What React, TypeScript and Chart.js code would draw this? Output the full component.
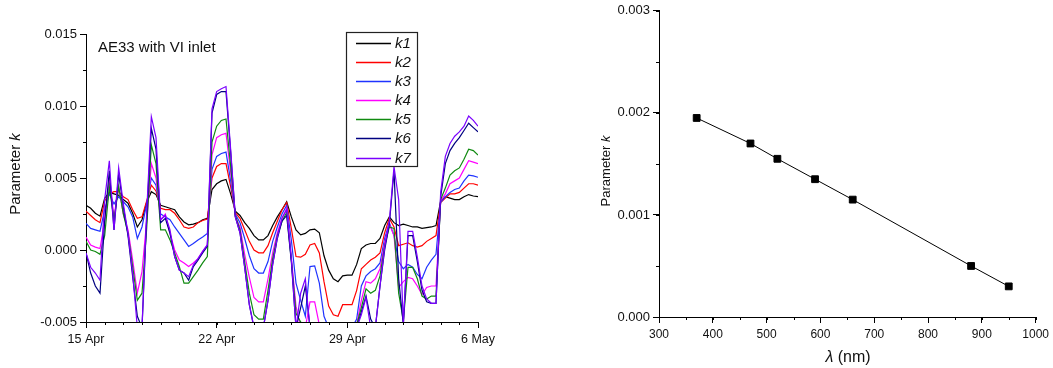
import React, { useEffect, useRef } from "react";
import { Chart, registerables } from "chart.js";

Chart.register(...registerables);

const FONT = '"Liberation Sans", Arial, Helvetica, sans-serif';
const INK = "#111";

// AE33 series are sampled every 6 h, counted in days from 15 Apr 00:00
const SAMPLE_STEP_DAYS = 0.25;
const dateTickLabels = ["15 Apr", "22 Apr", "29 Apr", "6 May"];

// Parameter k per wavelength channel, in units of 1e-3 (4 samples per day)
const k1 = [
  3.1, 2.9, 2.55, 2.35, 3.6, 4.0, 3.9, 3.8, 3.5, 3.25, 2.55, 1.6,
  2.1, 3.3, 4.05, 3.85, 3.1, 3.0, 2.9, 2.8, 2.3, 1.95, 1.75, 1.8,
  1.9, 2.1, 2.2, 4.2, 4.6, 4.8, 4.9, 3.9, 2.7, 2.4, 1.9, 1.5,
  1.0, 0.7, 0.7, 1.0, 1.7, 2.3, 2.8, 3.35, 2.3, 1.4, 1.05, 1.15,
  1.4, 1.45, 1.2, -0.4, -1.4, -2.0, -2.2, -1.8, -1.75, -1.75, -1.0, 0.1,
  0.35, 0.45, 0.45, 0.8, 1.7, 2.3, 1.9, 1.7, 1.8, 1.7, 1.6, 1.6,
  1.5, 1.55, 1.6, 1.7, 3.4, 3.7, 3.6, 3.5, 3.5, 3.7, 3.85, 3.75,
  3.7,
];
const k2 = [
  2.7, 2.4, 2.1, 1.9, 3.4, 3.9, 4.05, 4.05, 3.7, 3.5, 2.8, 2.2,
  2.3, 3.4, 4.5, 4.1, 2.9, 2.8, 2.8, 2.55, 2.1, 1.6, 1.5, 1.6,
  1.9, 2.05, 2.15, 5.0, 5.8, 6.0, 6.0, 4.4, 2.6, 2.2, 1.4, 0.6,
  0.0, -0.2, -0.2, 0.3, 1.2, 2.0, 2.8, 3.3, 1.5, -0.45, -0.5, -0.3,
  0.35, 0.45, -0.2, -2.2, -3.9, -4.5, -4.6, -3.8, -3.8, -3.8, -2.8, -1.3,
  -1.0, -0.7, -0.5, -0.2, 1.2, 2.2, 1.6, 0.3, 0.4, 0.5, 0.3, 0.2,
  0.3, 0.6, 0.8, 1.0, 3.3, 3.6, 3.9, 3.9, 4.0, 4.3, 4.6, 4.6,
  4.5,
];
const k3 = [
  1.85, 1.5, 1.4, 1.3, 2.8, 3.9, 3.2, 3.7, 3.35, 3.0, 2.3, 0.8,
  1.6, 3.2, 5.0, 4.5, 2.5, 2.3, 2.1, 1.6, 1.15, 0.7, 0.25, 0.45,
  0.7, 0.9, 1.15, 5.6, 6.5, 6.7, 6.8, 4.8, 2.5, 1.9, 0.8, -0.4,
  -1.3, -1.6, -1.6, -0.8, 0.6, 1.6, 2.5, 3.1, 0.7, -2.3, -3.5, -4.6,
  -1.15, -1.1, -2.3, -4.6, -5.4, -5.4, -5.4, -5.4, -5.4, -5.4, -4.8, -2.5,
  -1.8, -1.5, -1.3, -0.9, 0.8, 1.9, 1.0, -0.8, -1.3, -1.0, -1.2, -1.7,
  -2.0, -1.2, -0.7, -0.3, 3.3, 3.7, 4.0, 4.2, 4.3, 4.8, 5.2, 5.15,
  5.05,
];
const k4 = [
  0.9, 0.35, 0.2, 0.1, 2.0, 4.9, 2.3, 4.4, 2.5, 1.4, -0.7, -3.0,
  -1.5, 2.0, 6.0, 5.0, 2.1, 2.5, 1.15, 0.0, -0.7, -0.9, -1.15, -0.9,
  -0.6, -0.1, 0.35, 6.6, 7.8, 8.0, 8.1, 5.4, 2.3, 1.6, -0.3, -1.9,
  -3.3, -3.6, -3.6, -2.0, -0.2, 1.2, 2.2, 2.9, -0.5, -3.9, -5.4, -5.4,
  -3.6, -3.6, -5.2, -5.4, -5.4, -5.4, -5.4, -5.4, -5.4, -5.4, -5.2, -3.5,
  -2.2, -2.3, -2.0, -1.3, 0.5, 1.8, 1.0, -2.6, -2.2, -1.9, -2.0, -2.5,
  -3.1, -2.6, -2.5, -2.5, 3.4, 3.9, 4.6, 4.8, 5.0, 5.6, 6.2, 6.1,
  6.0,
];
const k5 = [
  0.6, 0.0, -0.1, -0.3, 1.0, 4.4, 2.1, 4.4, 2.5, 1.15, -1.15, -3.5,
  -3.0, 1.5, 7.3, 6.0, 1.4, 1.4, 0.7, -0.2, -1.15, -2.3, -2.3, -1.85,
  -1.4, -0.9, -0.45, 7.5, 8.6, 9.0, 9.1, 5.8, 2.4, 1.4, -0.8, -3.0,
  -4.5, -4.8, -4.8, -2.8, -0.6, 1.0, 2.0, 2.6, -0.7, -4.4, -5.0, -5.4,
  -5.4, -5.4, -5.4, -5.4, -5.4, -5.4, -5.4, -5.4, -5.4, -5.4, -5.2, -4.0,
  -2.7, -3.0, -2.8, -1.8, 0.3, 1.6, 1.5, -3.0, -4.9, -1.2, -1.2, -2.0,
  -3.2, -3.4, -3.2, -3.2, 3.5, 4.3, 5.2, 5.5, 5.7, 6.3, 7.0, 6.9,
  6.6,
];
const k6 = [
  -0.2, -1.6, -2.5, -3.0, 2.0, 5.5, 1.4, 5.3, 3.0, 1.0, -1.85, -4.6,
  -5.4, 2.2, 8.45, 7.0, 1.9, 2.2, 1.15, -0.45, -1.4, -1.6, -2.1, -1.15,
  -0.7, -0.2, 0.25, 9.5, 10.8, 11.0, 11.0, 6.8, 2.3, 1.2, -1.2, -3.8,
  -5.4, -5.4, -5.4, -3.5, -1.0, 0.8, 2.0, 2.4, -0.8, -5.4, -4.0, -2.5,
  -5.4, -5.4, -5.4, -5.4, -5.4, -5.4, -5.4, -5.4, -5.4, -5.4, -5.4, -4.3,
  -3.2, -4.8, -5.4, -2.5, 0.0, 1.8, 5.5, -2.0, -5.2, 1.0, 1.0, -0.8,
  -2.8, -3.6, -3.7, -3.7, 3.7, 6.0, 6.9, 7.4, 7.8, 8.3, 8.8, 8.5,
  8.2,
];
const k7 = [
  -0.2, -1.2, -1.6, -2.1, 3.5, 6.2, 1.4, 5.7, 3.2, 1.15, -1.6, -5.4,
  -5.4, 2.6, 9.26, 7.8, 2.1, 2.4, 1.4, -0.45, -1.4, -1.6, -1.85, -1.05,
  -0.6, -0.1, 0.35, 9.8, 11.0, 11.2, 11.35, 7.0, 2.3, 1.2, -1.2, -3.8,
  -5.4, -5.4, -5.4, -3.5, -1.0, 0.9, 2.2, 2.8, -0.6, -5.4, -3.0, -2.0,
  -5.4, -5.4, -5.4, -5.4, -5.4, -5.4, -5.4, -5.4, -5.4, -5.4, -5.4, -4.5,
  -3.3, -5.4, -5.4, -2.5, 0.2, 2.0, 5.8, 3.5, -5.2, 1.3, 1.3, -0.5,
  -2.5, -3.4, -3.7, -3.7, 4.0, 6.5, 7.4, 7.9, 8.2, 8.6, 9.3, 9.0,
  8.6,
];

const seriesNames = ["k1", "k2", "k3", "k4", "k5", "k6", "k7"];
const seriesValues = [k1, k2, k3, k4, k5, k6, k7];
const seriesColors = ["#000000", "#ff0000", "#1f33ff", "#ff00ff", "#108a10", "#000080", "#7a00ff"];

// Mean parameter k against wavelength
const wavelengthsNm = [370, 470, 520, 590, 660, 880, 950];
const meanK = [0.00195, 0.0017, 0.00155, 0.00135, 0.00115, 0.0005, 0.0003];

type Run = { text: string; italic?: boolean };

function drawRuns(
  ctx: CanvasRenderingContext2D,
  runs: Run[],
  size: number,
  x: number,
  y: number,
  angle = 0,
  align: "left" | "center" = "center"
) {
  ctx.save();
  ctx.translate(x, y);
  ctx.rotate(angle);
  ctx.textBaseline = "middle";
  ctx.textAlign = "left";
  ctx.fillStyle = INK;
  const fontOf = (r: Run) => `${r.italic ? "italic " : ""}${size}px ${FONT}`;
  let total = 0;
  for (const r of runs) {
    ctx.font = fontOf(r);
    total += ctx.measureText(r.text).width;
  }
  let cx = align === "center" ? -total / 2 : 0;
  for (const r of runs) {
    ctx.font = fontOf(r);
    ctx.fillText(r.text, cx, 0);
    cx += ctx.measureText(r.text).width;
  }
  ctx.restore();
}

// Short outward ticks between the labelled ones
function minorTicksPlugin(xStep: number, yStep: number, len = 3) {
  return {
    id: "minorTicks",
    afterDraw(chart: any) {
      const ctx: CanvasRenderingContext2D = chart.ctx;
      const xs = chart.scales.x;
      const ys = chart.scales.y;
      ctx.save();
      ctx.strokeStyle = "#000";
      ctx.lineWidth = 1;
      const nx = Math.round((xs.max - xs.min) / xStep);
      for (let i = 0; i <= nx; i++) {
        const px = Math.round(xs.getPixelForValue(xs.min + i * xStep)) + 0.5;
        ctx.beginPath();
        ctx.moveTo(px, xs.top);
        ctx.lineTo(px, xs.top + len);
        ctx.stroke();
      }
      const ny = Math.round((ys.max - ys.min) / yStep);
      for (let i = 0; i <= ny; i++) {
        const py = Math.round(ys.getPixelForValue(ys.min + i * yStep)) + 0.5;
        ctx.beginPath();
        ctx.moveTo(ys.right, py);
        ctx.lineTo(ys.right - len, py);
        ctx.stroke();
      }
      ctx.restore();
    },
  };
}

type TextItem = { runs: Run[]; size: number; x: number; y: number; angle?: number; align?: "left" | "center" };

function textPlugin(items: TextItem[]) {
  return {
    id: "panelText",
    afterDraw(chart: any) {
      for (const t of items) drawRuns(chart.ctx, t.runs, t.size, t.x, t.y, t.angle ?? 0, t.align ?? "center");
    },
  };
}

// Framed legend inside the plot, built from the chart's datasets
function boxLegendPlugin(box: { left: number; top: number; width: number; height: number; firstRow: number; rowGap: number; lineX0: number; lineX1: number; textX: number; size: number }) {
  return {
    id: "boxLegend",
    afterDraw(chart: any) {
      const ctx: CanvasRenderingContext2D = chart.ctx;
      ctx.save();
      ctx.fillStyle = "#fff";
      ctx.fillRect(box.left, box.top, box.width, box.height);
      ctx.strokeStyle = "#222";
      ctx.lineWidth = 1.2;
      ctx.strokeRect(box.left + 0.5, box.top + 0.5, box.width, box.height);
      chart.data.datasets.forEach((ds: any, i: number) => {
        const y = Math.round(box.firstRow + i * box.rowGap) + 0.5;
        ctx.strokeStyle = ds.borderColor;
        ctx.lineWidth = 1.3;
        ctx.beginPath();
        ctx.moveTo(box.lineX0, y);
        ctx.lineTo(box.lineX1, y);
        ctx.stroke();
        drawRuns(ctx, [{ text: ds.label, italic: true }], box.size, box.textX, y, 0, "left");
      });
      ctx.restore();
    },
  };
}

const tickFont = (size: number) => ({ family: FONT, size });

function fixedNum(v: number, digits: number) {
  const n = Math.abs(v) < 1e-12 ? 0 : v;
  return n.toFixed(digits);
}

function timeSeriesConfig(): any {
  return {
    type: "line",
    data: {
      datasets: seriesValues.map((vals, i) => ({
        label: seriesNames[i],
        data: vals.map((v, j) => ({ x: j * SAMPLE_STEP_DAYS, y: v / 1000 })),
        borderColor: seriesColors[i],
        backgroundColor: seriesColors[i],
        borderWidth: 1.2,
        pointRadius: 0,
        tension: 0,
        fill: false,
        order: seriesNames.length - i,
      })),
    },
    options: {
      animation: false,
      responsive: false,
      events: [],
      layout: { padding: { left: 0, right: 52, top: 34, bottom: 0 } },
      plugins: { legend: { display: false }, tooltip: { enabled: false } },
      scales: {
        x: {
          type: "linear",
          min: 0,
          max: 21,
          afterFit: (s: any) => {
            s.height = 46;
          },
          ticks: {
            stepSize: 7,
            autoSkip: false,
            maxRotation: 0,
            padding: 4,
            color: INK,
            font: tickFont(12.5),
            callback: (v: number) => dateTickLabels[Math.round(v / 7)] ?? "",
          },
          grid: { drawOnChartArea: false, drawTicks: true, tickLength: 6, color: "#000" },
          border: { display: true, color: "#000", width: 1 },
        },
        y: {
          type: "linear",
          min: -0.005,
          max: 0.015,
          afterFit: (s: any) => {
            s.width = 86;
          },
          ticks: {
            stepSize: 0.005,
            padding: 3,
            color: INK,
            font: tickFont(13),
            callback: (v: number) => fixedNum(v, 3),
          },
          grid: { drawOnChartArea: false, drawTicks: true, tickLength: 6, color: "#000" },
          border: { display: true, color: "#000", width: 1 },
        },
      },
    },
    plugins: [
      minorTicksPlugin(1, 0.0025),
      boxLegendPlugin({ left: 346, top: 32, width: 71, height: 134, firstRow: 42.7, rowGap: 19.15, lineX0: 356, lineX1: 391, textX: 395, size: 15 }),
      textPlugin([
        { runs: [{ text: "AE33 with VI inlet" }], size: 15, x: 98, y: 47.5, align: "left" },
        { runs: [{ text: "Parameter " }, { text: "k", italic: true }], size: 15, x: 15.5, y: 174, angle: -Math.PI / 2 },
      ]),
    ],
  };
}

function wavelengthConfig(): any {
  return {
    type: "line",
    data: {
      datasets: [
        {
          label: "k",
          data: wavelengthsNm.map((w, i) => ({ x: w, y: meanK[i] })),
          borderColor: "#000",
          backgroundColor: "#000",
          borderWidth: 1,
          pointStyle: "rect",
          pointRadius: 4.8,
          pointBorderWidth: 1,
          tension: 0,
          fill: false,
        },
      ],
    },
    options: {
      animation: false,
      responsive: false,
      events: [],
      layout: { padding: { left: 0, right: 15, top: 8, bottom: 0 } },
      plugins: { legend: { display: false }, tooltip: { enabled: false } },
      scales: {
        x: {
          type: "linear",
          min: 300,
          max: 1000,
          afterFit: (s: any) => {
            s.height = 51;
          },
          ticks: {
            stepSize: 100,
            autoSkip: false,
            maxRotation: 0,
            padding: 4,
            color: INK,
            font: tickFont(12),
            callback: (v: number) => String(Math.round(v)),
          },
          grid: { drawOnChartArea: false, drawTicks: true, tickLength: 6, color: "#000" },
          border: { display: true, color: "#000", width: 1 },
        },
        y: {
          type: "linear",
          min: 0,
          max: 0.003,
          afterFit: (s: any) => {
            s.width = 129;
          },
          ticks: {
            stepSize: 0.001,
            padding: 3,
            color: INK,
            font: tickFont(13),
            callback: (v: number) => fixedNum(v, 3),
          },
          grid: { drawOnChartArea: false, drawTicks: true, tickLength: 6, color: "#000" },
          border: { display: true, color: "#000", width: 1 },
        },
      },
    },
    plugins: [
      minorTicksPlugin(50, 0.0005),
      textPlugin([
        { runs: [{ text: "Parameter " }, { text: "k", italic: true }], size: 13, x: 76.5, y: 171, angle: -Math.PI / 2 },
        { runs: [{ text: "λ", italic: true }, { text: " (nm)" }], size: 16, x: 318, y: 358 },
      ]),
    ],
  };
}

export default function App() {
  const leftRef = useRef<HTMLCanvasElement>(null);
  const rightRef = useRef<HTMLCanvasElement>(null);

  useEffect(() => {
    const left = new Chart(leftRef.current as HTMLCanvasElement, timeSeriesConfig());
    const right = new Chart(rightRef.current as HTMLCanvasElement, wavelengthConfig());
    return () => {
      left.destroy();
      right.destroy();
    };
  }, []);

  return (
    <div style={{ position: "absolute", left: 0, top: 0, width: 1053, height: 368, background: "#fff" }}>
      <canvas ref={leftRef} width={530} height={368} style={{ position: "absolute", left: 0, top: 0 }} />
      <canvas ref={rightRef} width={523} height={368} style={{ position: "absolute", left: 530, top: 0 }} />
    </div>
  );
}
